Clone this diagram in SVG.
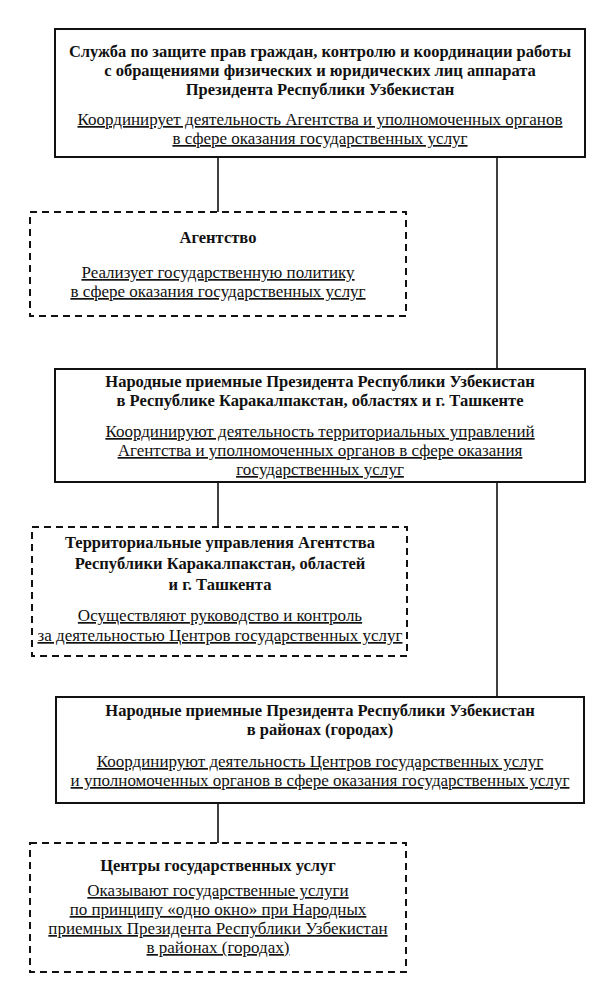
<svg xmlns="http://www.w3.org/2000/svg" width="612" height="996" viewBox="0 0 612 996">
<style>
.solid{fill:#fff;stroke:#111;stroke-width:2}
.dash{fill:#fff;stroke:#111;stroke-width:2;stroke-dasharray:7 5}
.b{font-family:'Liberation Serif','DejaVu Serif',serif;font-size:16.5px;font-weight:bold;text-anchor:middle;fill:#111}
.u{font-family:'Liberation Serif','DejaVu Serif',serif;font-size:17px;text-anchor:middle;fill:#111;text-decoration:underline}
.c{stroke:#111;stroke-width:1.6;fill:none}
</style>
<rect width="612" height="996" fill="#fff"/>
<g id="connectors">
<line class="c" x1="218" y1="157" x2="218" y2="212"/>
<line class="c" x1="497" y1="157" x2="497" y2="369"/>
<line class="c" x1="218" y1="482" x2="218" y2="527"/>
<line class="c" x1="497" y1="482" x2="497" y2="697"/>
<line class="c" x1="218" y1="803" x2="218" y2="843"/>
</g>
<g id="node-service">
<rect class="solid" x="55" y="29" width="530" height="128"/>
<text class="b" x="320" y="57">Служба по защите прав граждан, контролю и координации работы</text>
<text class="b" x="320" y="76">с обращениями физических и юридических лиц аппарата</text>
<text class="b" x="320" y="95">Президента Республики Узбекистан</text>
<text class="u" x="320" y="125">Координирует деятельность Агентства и уполномоченных органов</text>
<text class="u" x="320" y="144">в сфере оказания государственных услуг</text>
</g>
<g id="node-agency">
<rect class="dash" x="30" y="212" width="376" height="104"/>
<text class="b" x="218" y="243">Агентство</text>
<text class="u" x="218" y="278">Реализует государственную политику</text>
<text class="u" x="218" y="297">в сфере оказания государственных услуг</text>
</g>
<g id="node-regional-reception">
<rect class="solid" x="55" y="369" width="530" height="113"/>
<text class="b" x="320" y="387">Народные приемные Президента Республики Узбекистан</text>
<text class="b" x="320" y="406">в Республике Каракалпакстан, областях и г. Ташкенте</text>
<text class="u" x="320" y="437">Координируют деятельность территориальных управлений</text>
<text class="u" x="320" y="456">Агентства и уполномоченных органов в сфере оказания</text>
<text class="u" x="320" y="475">государственных услуг</text>
</g>
<g id="node-territorial">
<rect class="dash" x="32" y="527" width="375" height="129"/>
<text class="b" x="220" y="548">Территориальные управления Агентства</text>
<text class="b" x="220" y="569">Республики Каракалпакстан, областей</text>
<text class="b" x="220" y="590">и г. Ташкента</text>
<text class="u" x="220" y="621">Осуществляют руководство и контроль</text>
<text class="u" x="220" y="641">за деятельностью Центров государственных услуг</text>
</g>
<g id="node-district-reception">
<rect class="solid" x="56" y="697" width="528" height="106"/>
<text class="b" x="320" y="716">Народные приемные Президента Республики Узбекистан</text>
<text class="b" x="320" y="735">в районах (городах)</text>
<text class="u" x="320" y="767">Координируют деятельность Центров государственных услуг</text>
<text class="u" x="320" y="786">и уполномоченных органов в сфере оказания государственных услуг</text>
</g>
<g id="node-centers">
<rect class="dash" x="30" y="843" width="376" height="129"/>
<text class="b" x="218" y="871">Центры государственных услуг</text>
<text class="u" x="218" y="896">Оказывают государственные услуги</text>
<text class="u" x="218" y="915">по принципу «одно окно» при Народных</text>
<text class="u" x="218" y="934">приемных Президента Республики Узбекистан</text>
<text class="u" x="218" y="953">в районах (городах)</text>
</g>
</svg>
